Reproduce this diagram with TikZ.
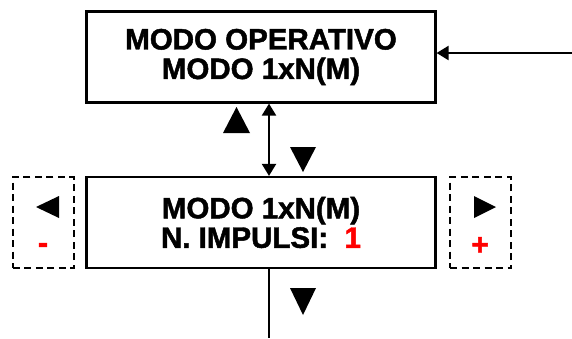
\documentclass[tikz,border=0pt]{standalone}
\usepackage{fontspec}
\setmainfont{Liberation Sans}
\newfontfamily\heavyfont[FakeBold=1.6]{Liberation Sans Bold}
\usetikzlibrary{arrows.meta,%
		calc,%
		positioning}

\tikzset{
  menubox/.style={draw, line width=2.2pt, minimum width=349pt, minimum height=91pt,
    align=center, font=\heavyfont\fontsize{29.5}{29.5}\selectfont, inner sep=0pt},
  keybox/.style={draw, dash pattern=on 7pt off 4.5pt, line width=2pt,
    minimum width=61pt, minimum height=91pt, inner sep=0pt},
  conn/.style={line width=2.2pt, -{Triangle[length=12pt,width=14pt]}},
  sign/.style={text=red, font=\heavyfont\fontsize{30}{30}\selectfont, inner sep=0pt}
}

\begin{document}
\begin{tikzpicture}[x=1pt,y=-1pt]
  \useasboundingbox (0,0) rectangle (572,338);
  \node[menubox] (top) at (261,57) {MODO OPERATIVO\\MODO 1xN(M)}; %menu
  \node[menubox] (mid) at (261,222.5) {MODO 1xN(M)\\N. IMPULSI:\ \ \textcolor{red}{1}}; %impulsi
  \node[keybox] (minus) at (43.4,222.5) {}; %tasto -
  \node[keybox] (plus) at (480.5,222.5) {}; %tasto +
  \node[sign] (m) at (43,248) {-};
  \node[sign] (p) at (480,246) {+};

  \coordinate (in) at (572,53);
  \coordinate (v) at (269,0);
  \coordinate (out) at (269,338);
  \draw[conn] (in) -- (in -| top.east);
  \draw[conn,{Triangle[length=12pt,width=14pt]}-{Triangle[length=12pt,width=14pt]}] (v |- top.south) -- (v |- mid.north);
  \draw[line width=2.2pt] (v |- mid.south) -- (out);

  % tasti freccia
  \fill (223,133) -- (250,133) -- (236.5,107) -- cycle; %su
  \fill (290,147) -- (316,147) -- (303,172) -- cycle; %giu
  \fill (290,288) -- (316,288) -- (303,315) -- cycle; %giu
  \fill (59,196) -- (59,218) -- (36,207) -- cycle; %sinistra
  \fill (474,196) -- (474,218) -- (496,207) -- cycle; %destra
\end{tikzpicture}
\end{document}
